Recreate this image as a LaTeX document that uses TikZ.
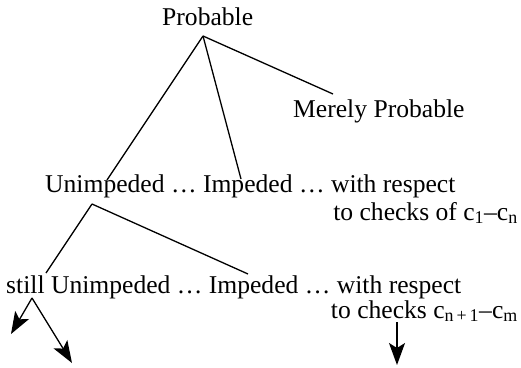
\documentclass[tikz,border=0pt]{standalone}
\usepackage{fontspec}
\setmainfont{Liberation Serif}
\usetikzlibrary{arrows.meta}
\tikzset{word/.style={anchor=base west,inner sep=0pt,font=\fontsize{25.6}{28}\selectfont}}
\begin{document}
\begin{tikzpicture}[x=1pt,y=-1pt]
\tikzset{>={Stealth[length=22pt,width=16pt,inset=5pt]}}
\useasboundingbox (0,0) rectangle (521,367);
% top level
\node[word] (prob) at (162,25) {Probable};
\node[word] (merely) at (293,117) {Merely Probable};
\coordinate (top) at (203,36);
\coordinate (m) at (333,94);
% first row
\node[word] (row1) at (45,192) {Unimpeded \dots{} Impeded \dots{} with respect};
\node[word,anchor=base east] (row1b) at (518,220) {to checks of c\textsubscript{1}–c\textsubscript{n}};
\coordinate (u) at (107,180);
\coordinate (i) at (241,179);
\coordinate (mid) at (92,204);
% second row
\node[word] (row2) at (6,293) {still Unimpeded \dots{} Impeded \dots{} with respect};
\node[word,anchor=base east] (row2b) at (518,318) {to checks c\textsubscript{n\,+\,1}–c\textsubscript{m}};
\coordinate (su) at (46,273);
\coordinate (si) at (248,274);
\coordinate (low) at (32,298);
\coordinate (a1) at (11,334);
\coordinate (a2) at (72,363);
\coordinate (c) at (397,322);
\coordinate (a3) at (397,365);
\draw[line width=1.3pt] (top) -- (u);
\draw[line width=1.3pt] (top) -- (i);
\draw[line width=1.3pt] (top) -- (m);
\draw[line width=1.3pt] (mid) -- (su);
\draw[line width=1.3pt] (mid) -- (si);
\draw[->,line width=1.3pt] (low) -- (a1);
\draw[->,line width=1.3pt] (low) -- (a2);
\draw[->,line width=1.3pt] (c) -- (a3);
\end{tikzpicture}
\end{document}
